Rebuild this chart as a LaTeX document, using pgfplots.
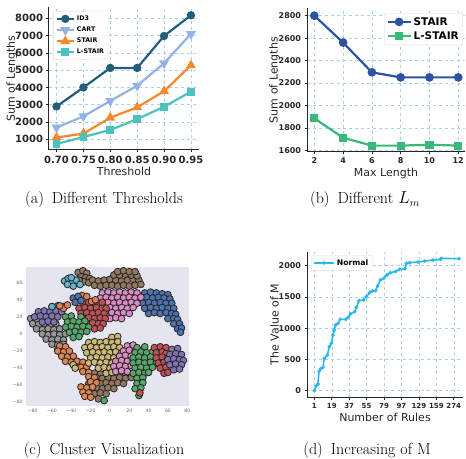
\documentclass[border=0pt]{standalone}
\usepackage{fontspec}
\usepackage{pgfplots}
\pgfplotsset{compat=1.18}
\newfontfamily\dv{DejaVu Sans}

\definecolor{cid}{RGB}{33,94,122}
\definecolor{ccart}{RGB}{148,178,229}
\definecolor{cstair}{RGB}{246,136,46}
\definecolor{clst}{RGB}{76,194,190}
\definecolor{bstair}{RGB}{48,82,164}
\definecolor{blst}{RGB}{56,184,122}
\definecolor{cnorm}{RGB}{41,184,242}
\definecolor{gridc}{RGB}{170,208,235}
\definecolor{txt}{RGB}{38,38,38}
\definecolor{bgc}{RGB}{228,229,238}
% seaborn deep
\definecolor{sblue}{RGB}{76,114,176}
\definecolor{sorange}{RGB}{221,132,82}
\definecolor{sgreen}{RGB}{85,168,104}
\definecolor{sred}{RGB}{196,78,82}
\definecolor{spurple}{RGB}{129,114,179}
\definecolor{sbrown}{RGB}{147,120,96}
\definecolor{spink}{RGB}{218,139,195}
\definecolor{sgray}{RGB}{150,150,150}
\definecolor{skhaki}{RGB}{204,185,116}
\definecolor{scyan}{RGB}{100,181,205}

\pgfplotsset{
  line panel/.style={
    scale only axis,
    axis lines*=left,
    axis line style={txt, line width=1pt},
    grid=major,
    grid style={dashed, gridc, line width=0.5pt},
    tick style={txt, line width=0.7pt},
    major tick length=2.5pt,
    tick align=outside,
    /pgf/number format/assume math mode=true,
    /pgf/number format/1000 sep={},
    scaled ticks=false,
    label style={font=\dv\fontsize{11}{13}\selectfont, text=txt},
    legend cell align=left,
  },
  sc/.style={only marks, mark=*, mark size=3.4pt,
    mark options={fill=#1, draw=black!85, line width=0.8pt}},
}

\begin{document}
\begin{tikzpicture}
\useasboundingbox (0pt,0pt) rectangle (466pt,458pt);

% ---------- (a) ----------
\begin{axis}[line panel,
  at={(49pt,308pt)}, anchor=south west,
  width=150pt, height=142.7pt,
  xmin=0.686, xmax=0.965, ymin=380, ymax=8640,
  xtick={0.70,0.75,0.80,0.85,0.90,0.95},
  xticklabels={0.70,0.75,0.80,0.85,0.90,0.95},
  ytick={1000,2000,...,8000},
  tick label style={font=\dv\bfseries\fontsize{10}{12}\selectfont, text=txt},
  xlabel={Threshold}, ylabel={Sum of Lengths},
  xlabel style={yshift=3pt}, ylabel style={yshift=-9pt},
  legend style={at={(0.03,0.97)}, anchor=north west, draw=black!15,
    rounded corners=1pt, font=\dv\bfseries\fontsize{6.3}{8}\selectfont,
    row sep=1pt, inner sep=2pt},
]
\addplot[cid, line width=2.2pt, mark=*, mark size=3pt] coordinates {
  (0.70,2900)(0.75,4000)(0.80,5130)(0.85,5130)(0.90,6980)(0.95,8180)};
\addplot[ccart, line width=2.2pt, mark=triangle*, mark size=3.6pt,
  mark options={rotate=180}] coordinates {
  (0.70,1680)(0.75,2330)(0.80,3220)(0.85,4100)(0.90,5400)(0.95,7100)};
\addplot[cstair, line width=2.2pt, mark=triangle*, mark size=3.6pt] coordinates {
  (0.70,1100)(0.75,1330)(0.80,2250)(0.85,2850)(0.90,3780)(0.95,5280)};
\addplot[clst, line width=2.2pt, mark=square*, mark size=2.8pt] coordinates {
  (0.70,730)(0.75,1130)(0.80,1540)(0.85,2170)(0.90,2880)(0.95,3760)};
\legend{ID3,CART,STAIR,L-STAIR}
\end{axis}

% ---------- (b) ----------
\begin{axis}[line panel,
  at={(307pt,306pt)}, anchor=south west,
  width=158pt, height=143.7pt,
  xmin=1.49, xmax=12.47, ymin=1585, ymax=2866,
  xtick={2,4,...,12}, ytick={1600,1800,...,2800},
  tick label style={font=\dv\bfseries\fontsize{8}{10}\selectfont, text=txt},
  xlabel={Max Length}, ylabel={Sum of Lengths},
  xlabel style={yshift=3pt}, ylabel style={yshift=-8pt},
  legend style={at={(0.987,0.967)}, anchor=north east, draw=black!15,
    rounded corners=1pt, font=\dv\bfseries\fontsize{10.5}{12}\selectfont,
    row sep=1pt, inner sep=2pt},
  legend image code/.code={\draw[mark repeat=2, mark phase=2, #1]
    plot coordinates {(0pt,0pt) (11.5pt,0pt) (23pt,0pt)};},
]
\addplot[bstair, line width=2.2pt, mark=*, mark size=3.2pt] coordinates {
  (2,2800)(4,2560)(6,2295)(8,2250)(10,2250)(12,2250)};
\addplot[blst, line width=2.2pt, mark=square*, mark size=3pt] coordinates {
  (2,1885)(4,1712)(6,1642)(8,1642)(10,1650)(12,1642)};
\legend{STAIR,L-STAIR}
\end{axis}

% ---------- (c) ----------
\begin{axis}[scale only axis,
  at={(26pt,52pt)}, anchor=south west,
  width=163pt, height=139pt,
  xmin=-86.9, xmax=81.8, ymin=-84.3, ymax=78.4,
  axis background/.style={fill=bgc},
  axis line style={draw=none}, tick style={draw=none},
  xtick={-80,-60,...,80}, ytick={-80,-60,...,60},
  xticklabels={−80,−60,−40,−20,0,20,40,60,80},
  yticklabels={−80,−60,−40,−20,0,20,40,60},
  tick label style={font=\dv\fontsize{4.6}{5}\selectfont, text=black!60},
  clip=false,
]
\addplot[sc=sgray] coordinates {
(-82,18)(-76,17)(-70,18)(-64,17)(-80,12)(-74,11)(-68,12)(-62,11)(-56,12)
(-76,6)(-70,5)(-64,6)(-58,5)(-52,6)(-70,0)(-64,-1)(-58,0)(-52,-1)(-46,0)
(-66,-6)(-60,-7)(-54,-6)(-48,-7)(-60,-12)(-54,-13)(-48,-12)(-54,-18)(-48,-19)(-50,-24)};
\addplot[sc=spurple] coordinates {
(-60,32)(-54,33)(-48,32)(-74,26)(-68,27)(-62,26)(-56,27)(-50,26)
(-78,20)(-72,21)(-66,20)(-60,21)(-54,20)(-70,14)(-64,15)(-58,14)};
\addplot[sc=sbrown] coordinates {
(-33,72)(-28,74)(-24,71)(-30,67)(-25,66)(-21,65)(-27,61)(-22,60)(-32,63)
(-18,63)(-12,62)(-6,63)(0,64)(6,63)(12,62)(18,63)(24,64)(30,63)
(-16,57)(-10,56)(-4,57)(2,57)(8,56)(14,57)(20,56)(26,57)(32,58)
(4,69)(10,69)(16,70)(22,69)(28,68)(8,73)(14,74)(20,73)(26,73)};
\addplot[sc=scyan] coordinates {
(-47,62)(-43,65)(-39,60)(-35,63)(-44,58)(-38,56)(-31,58)(-40,66)(-60,32)};
\addplot[sc=sblue] coordinates {
(36,48)(42,49)(48,48)(54,47)(60,46)
(32,42)(38,43)(44,42)(50,43)(56,42)(62,41)
(34,36)(40,37)(46,36)(52,37)(58,36)(64,36)
(36,30)(42,31)(48,30)(54,31)(60,30)(66,30)
(40,24)(46,25)(52,24)(58,25)(64,24)(68,23)
(60,18)(66,18)(70,17)(66,12)(72,12)(70,6)(74,7)(73,2)};
\addplot[sc=spink] coordinates {
(-8,48)(-2,49)(4,48)(10,49)(16,48)(22,49)(28,48)
(-10,42)(-4,43)(2,42)(8,43)(14,42)(20,43)(26,42)(32,43)
(-8,36)(-2,37)(4,36)(10,37)(16,36)(22,37)(28,36)
(-6,30)(0,31)(6,30)(12,31)(18,30)(24,31)
(-4,24)(2,25)(8,24)(14,25)(20,24)(0,18)(6,19)(12,18)};
\addplot[sc=sred] coordinates {
(-28,36)(-22,37)(-16,36)(-8,37)
(-32,30)(-26,31)(-20,30)(-14,31)(-8,30)(-4,30)
(-30,24)(-24,25)(-18,24)(-12,25)(-6,24)
(-28,18)(-22,19)(-16,18)(-10,19)(-5,18)
(-24,12)(-18,13)(-12,12)(-7,12)(-16,6)(-10,7)};
\addplot[sc=sgreen] coordinates {
(-46,20)(-40,21)(-30,20)(-44,14)(-38,15)(-32,14)(-26,15)
(-46,8)(-40,9)(-34,8)(-28,9)(-22,8)(-42,2)(-36,3)(-30,2)(-24,3)(-38,-4)(-32,-3)};
\addplot[sc=sorange] coordinates {
(-29,45)(-24,44)(-19,38)(-48,30)(-44,34)(-52,33)(-15,40)};
\addplot[sc=sblue] coordinates {(-38,42)(-33,44)(-36,37)(-30,39)};
\addplot[sc=sbrown] coordinates {
(-16,-46)(-10,-47)(0,-46)(10,-47)(16,-46)(22,-47)
(-20,-52)(-14,-51)(-8,-52)(-2,-51)(4,-52)(10,-51)(16,-52)(22,-51)
(-22,-58)(-16,-57)(-10,-58)(-4,-57)(2,-58)(8,-57)(14,-58)
(-20,-64)(-14,-63)(-8,-64)(-2,-63)(4,-64)(-16,-70)(-10,-69)(-4,-70)(-12,-76)};
\addplot[sc=sorange] coordinates {
(-52,-14)(-46,-15)(-54,-20)(-48,-21)(-42,-20)(-50,-26)(-44,-27)(-38,-26)
(-46,-32)(-40,-33)(-34,-32)(-28,-33)(-36,-38)(-30,-39)(-24,-38)
(-28,-44)(-22,-45)(-22,-50)(-16,-51)(-20,-56)(-14,-57)
(-30,-62)(-24,-63)(-18,-62)(-28,-68)(-22,-69)(-26,-73)(-20,-74)};
\addplot[sc=skhaki] coordinates {
(2,-4)(8,-3)(-22,-10)(-16,-9)(-10,-10)(-4,-9)(2,-10)(8,-9)
(-26,-16)(-20,-15)(-14,-16)(-8,-15)(-2,-16)(4,-15)(10,-16)
(-24,-22)(-18,-21)(-12,-22)(-6,-21)(0,-22)(6,-21)(12,-22)
(-20,-28)(-14,-27)(-8,-28)(-2,-27)(4,-28)(10,-27)
(-22,-34)(-16,-33)(-10,-34)(-4,-33)(2,-34)(8,-33)
(-12,-40)(-6,-39)(0,-40)(6,-39)(-4,-46)(2,-45)(-38,-36)(-36,-40)};
\addplot[sc=spink] coordinates {
(18,-14)(24,-13)(14,-20)(20,-19)(26,-20)(10,-26)(16,-25)(22,-26)
(6,-32)(12,-31)(18,-32)(24,-31)(4,-38)(10,-37)(16,-38)(22,-37)
(6,-44)(12,-43)(18,-44)};
\addplot[sc=sgreen] coordinates {
(28,-16)(36,-15)(26,-22)(32,-21)(38,-22)(44,-21)
(24,-28)(30,-27)(36,-28)(42,-27)(48,-28)(24,-34)(30,-33)(36,-34)(42,-33)(48,-34)
(26,-40)(32,-39)(38,-40)(44,-39)(24,-46)(30,-45)(36,-46)(40,-45)
(28,-52)(34,-51)(28,-58)(34,-57)(26,-64)(32,-63)(30,-72)(-6,-78)};
\addplot[sc=sred] coordinates {
(46,-16)(52,-15)(58,-16)(48,-22)(54,-21)(58,-23)(48,-28)(54,-27)(60,-28)
(50,-34)(56,-33)(60,-35)(52,-40)(58,-39)(56,-46)(60,-45)(31,-69)};
\addplot[sc=spurple] coordinates {
(64,-18)(70,-17)(62,-24)(68,-23)(74,-24)(60,-30)(66,-29)(72,-30)(76,-31)
(62,-36)(68,-35)(74,-36)(66,-42)(72,-41)};
\end{axis}

% ---------- (d) ----------
\begin{axis}[line panel,
  at={(307pt,60.3pt)}, anchor=south west,
  width=156pt, height=146pt,
  xmin=-0.42, xmax=8.53, ymin=-112, ymax=2224,
  xtick={0,...,8}, xticklabels={1,19,37,55,79,97,129,159,274},
  ytick={0,500,...,2000},
  yticklabel style={font=\dv\bfseries\fontsize{8}{10}\selectfont, text=txt},
  xticklabel style={font=\dv\bfseries\fontsize{7}{9}\selectfont, text=txt},
  xlabel={Number of Rules}, ylabel={The Value of M},
  xlabel style={yshift=3pt}, ylabel style={yshift=-7pt},
  legend style={at={(0.026,0.977)}, anchor=north west, draw=black!15,
    rounded corners=1pt, font=\dv\bfseries\fontsize{7.7}{9}\selectfont,
    inner sep=2pt},
  legend image code/.code={\draw[mark repeat=2, mark phase=2, #1]
    plot coordinates {(0pt,0pt) (10pt,0pt) (20pt,0pt)};},
]
\addplot[cnorm, line width=1.6pt, mark=*, mark size=0.9pt] coordinates {
(0,0)(0.10,75)(0.21,107)(0.27,309)(0.36,352)(0.50,373)(0.57,517)(0.75,571)
(0.86,704)(0.98,757)(1.07,891)(1.15,971)(1.22,1051)(1.36,1077)(1.49,1141)
(1.80,1141)(1.95,1173)(2.07,1227)(2.31,1264)(2.41,1333)(2.56,1440)(2.83,1451)
(2.98,1504)(3.17,1568)(3.33,1595)(3.52,1600)(3.63,1675)(3.79,1771)(3.98,1797)
(4.17,1851)(4.36,1888)(4.67,1909)(4.89,1941)(5.20,1952)(5.28,2037)(5.47,2048)
(5.95,2059)(6.33,2075)(6.81,2091)(7.23,2101)(7.28,2117)(8.30,2112)};
\legend{Normal}
\end{axis}

% ---------- captions ----------
\node[anchor=base, font=\fontsize{16}{19}\selectfont] at (104pt,254pt) {(a)\enspace Different Thresholds};
\node[anchor=base, font=\fontsize{16}{19}\selectfont] at (365pt,254pt) {(b)\enspace Different $L_m$};
\node[anchor=base, font=\fontsize{16}{19}\selectfont] at (104pt,4pt) {(c)\enspace Cluster Visualization};
\node[anchor=base, font=\fontsize{16}{19}\selectfont] at (367pt,4pt) {(d)\enspace Increasing of M};
\end{tikzpicture}
\end{document}
